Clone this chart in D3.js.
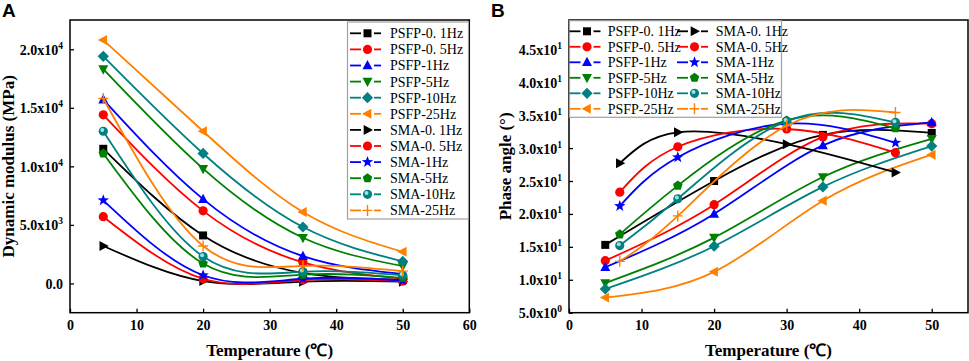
<!DOCTYPE html>
<html><head><meta charset="utf-8">
<script src="https://cdn.jsdelivr.net/npm/d3@7"></script>
<style>body{margin:0;background:#fff}svg{display:block}</style>
</head><body><svg id="c" width="969" height="361"></svg>
<script>
// ---------- DATA ----------
const seriesNames = ["PSFP-0. 1Hz","PSFP-0. 5Hz","PSFP-1Hz","PSFP-5Hz","PSFP-10Hz","PSFP-25Hz",
                     "SMA-0. 1Hz","SMA-0. 5Hz","SMA-1Hz","SMA-5Hz","SMA-10Hz","SMA-25Hz"];
const seriesColors = ["#000000","#ff0000","#0000ff","#008000","#008080","#ff8000",
                      "#000000","#ff0000","#0000ff","#008000","#008080","#ff8000"];
const seriesMarkers = ["square","circle","triUp","triDown","diamond","triLeft",
                       "triRight","circle","star","pentagon","sphere","plus"];

// Panel A: dynamic modulus (MPa)
const tempA_PSFP = [5, 20, 35, 50];
const tempA_SMA  = [5, 20, 35, 50];
const modPSFP01 = [11500, 4100, 900, 300];
const modPSFP05 = [14400, 6200, 1800, 400];
const modPSFP1  = [15700, 7200, 2330, 800];
const modPSFP5  = [18300, 9800, 3900, 1480];
const modPSFP10 = [19400, 11100, 4820, 1880];
const modPSFP25 = [20800, 13000, 6100, 2700];
const modSMA01  = [3200, 200, 150, 150];
const modSMA05  = [5700, 400, 300, 200];
const modSMA1   = [7100, 700, 400, 250];
const modSMA5   = [11100, 1700, 750, 480];
const modSMA10  = [13000, 2300, 1000, 700];
const modSMA25  = [15800, 3200, 1500, 1050];

// Panel B: phase angle (°)
const tempB_PSFP = [5, 20, 35, 50];
const tempB_SMA  = [7, 15, 30, 45];
const phPSFP01 = [15.3, 25.0, 32.0, 32.3];
const phPSFP05 = [12.9, 21.4, 31.7, 33.7];
const phPSFP1  = [11.9, 20.0, 30.4, 33.9];
const phPSFP5  = [9.5, 16.4, 25.6, 31.4];
const phPSFP10 = [8.6, 15.1, 24.1, 30.3];
const phPSFP25 = [7.3, 11.2, 22.0, 29.0];
const phSMA01  = [27.7, 32.4, 30.6, 26.3];
const phSMA05  = [23.3, 30.2, 32.9, 29.3];
const phSMA1   = [21.2, 28.6, 33.7, 30.8];
const phSMA5   = [16.9, 24.3, 34.2, 33.0];
const phSMA10  = [15.2, 22.3, 34.1, 33.9];
const phSMA25  = [12.8, 19.7, 33.4, 35.4];

// Axes ticks
const xTicksA = [0,10,20,30,40,50,60];
const yTicksA = [0,5000,10000,15000,20000];
const xTicksB = [0,10,20,30,40,50];
const yTicksB = [5,10,15,20,25,30,35,40,45];

// ---------- DRAW ----------
const svg = d3.select("#c");
const FONT = "'Liberation Serif','Times New Roman',serif";

function sciParts(v){
  if (v === 0) return ["0.0", null];
  const e = Math.floor(Math.log10(Math.abs(v)) + 1e-9);
  const m = v / Math.pow(10, e);
  return [m.toFixed(1) + "x10", String(e)];
}

function markerPath(type){
  const p = d3.path();
  const poly = pts => { p.moveTo(pts[0][0],pts[0][1]); pts.slice(1).forEach(q=>p.lineTo(q[0],q[1])); p.closePath(); };
  switch(type){
    case "square": p.rect(-4,-4,8,8); break;
    case "circle": case "sphere": p.moveTo(4.6,0); p.arc(0,0,4.6,0,2*Math.PI); break;
    case "triUp": poly([[0,-5.5],[5,3.8],[-5,3.8]]); break;
    case "triDown": poly([[0,5.5],[5,-3.8],[-5,-3.8]]); break;
    case "diamond": poly([[0,-5.6],[5.6,0],[0,5.6],[-5.6,0]]); break;
    case "triLeft": poly([[-5.5,0],[3.8,-5],[3.8,5]]); break;
    case "triRight": poly([[5.5,0],[-3.8,-5],[-3.8,5]]); break;
    case "star": {
      const pts=[]; for(let i=0;i<10;i++){const r=i%2?2.5:6;const a=-Math.PI/2+i*Math.PI/5;pts.push([r*Math.cos(a),r*Math.sin(a)]);} poly(pts); break; }
    case "pentagon": {
      const pts=[]; for(let i=0;i<5;i++){const a=-Math.PI/2+i*2*Math.PI/5;pts.push([5*Math.cos(a),5*Math.sin(a)]);} poly(pts); break; }
    case "plus": p.moveTo(-5,0); p.lineTo(5,0); p.moveTo(0,-5.5); p.lineTo(0,5.5); break;
  }
  return p.toString();
}

function drawMarker(g, type, x, y, color){
  const m = g.append("g").attr("transform", `translate(${x},${y})`);
  if (type === "plus") {
    m.append("path").attr("d", markerPath(type)).attr("stroke", color).attr("stroke-width", 1.4).attr("fill","none");
  } else {
    m.append("path").attr("d", markerPath(type)).attr("fill", color);
    if (type === "sphere") {
      m.append("circle").attr("cx",-1).attr("cy",-1.2).attr("r",2).attr("fill","#9fe0e0");
    }
  }
}

function panel(opts){
  const {left,right,top,bottom,xDom,yDom,xTicks,yTicks,xs,ysList,letter,ylabel,ylabelX,letterX} = opts;
  const x = d3.scaleLinear().domain(xDom).range([left,right]);
  const y = d3.scaleLinear().domain(yDom).range([bottom,top]);
  const g = svg.append("g");

  // series
  const line = d3.line().x(d=>x(d[0])).y(d=>y(d[1])).curve(d3.curveNatural);
  ysList.forEach((vals,i)=>{
    const xv = xs[i];
    const pts = vals.map((v,j)=>[xv[j],v]);
    g.append("path").attr("d", line(pts)).attr("fill","none")
      .attr("stroke", seriesColors[i]).attr("stroke-width", 1.8);
    pts.forEach(p=>drawMarker(g, seriesMarkers[i], x(p[0]), y(p[1]), seriesColors[i]));
  });

  // axes
  const xa = g.append("g").attr("transform",`translate(0,${bottom})`)
    .call(d3.axisBottom(x).tickValues(xTicks).tickSizeInner(-4).tickSizeOuter(0).tickPadding(7).tickFormat(d3.format("d")));
  xa.selectAll("text").attr("font-family",FONT).attr("font-weight","bold").attr("font-size",14).attr("fill","#000");
  const ya = g.append("g").attr("transform",`translate(${left},0)`)
    .call(d3.axisLeft(y).tickValues(yTicks).tickSizeInner(-4).tickSizeOuter(0).tickPadding(7).tickFormat(""));
  ya.selectAll(".tick").each(function(d){
    const [base, exp] = sciParts(d);
    const t = d3.select(this).append("text").attr("x",-7).attr("dy","0.36em")
      .attr("text-anchor","end").attr("font-family",FONT).attr("font-weight","bold")
      .attr("font-size",14).attr("fill","#000");
    t.append("tspan").text(base);
    if (exp !== null) t.append("tspan").attr("dy",-6).attr("font-size",9.5).text(exp);
  });
  g.selectAll(".domain").remove();
  g.selectAll(".tick line").attr("stroke","#000").attr("stroke-width",1.3);
  g.append("rect").attr("x",left).attr("y",top).attr("width",right-left).attr("height",bottom-top)
    .attr("fill","none").attr("stroke","#000").attr("stroke-width",1.5);

  // titles
  g.append("text").attr("x",(left+right)/2).attr("y",356).attr("text-anchor","middle")
    .attr("font-family",FONT).attr("font-weight","bold").attr("font-size",17).text("Temperature (℃)");
  g.append("text").attr("transform",`translate(${ylabelX},${(top+bottom)/2}) rotate(-90)`).attr("text-anchor","middle")
    .attr("font-family",FONT).attr("font-weight","bold").attr("font-size",17).text(ylabel);
  g.append("text").attr("x",letterX).attr("y",17).attr("font-family","'Liberation Sans',Arial,sans-serif")
    .attr("font-weight","bold").attr("font-size",19).text(letter);
  return g;
}

function legendItem(g, i, lx, cy, tx){
  const c = seriesColors[i];
  g.append("line").attr("x1",lx).attr("x2",lx+11).attr("y1",cy).attr("y2",cy).attr("stroke",c).attr("stroke-width",1.8);
  g.append("line").attr("x1",lx+24).attr("x2",lx+31).attr("y1",cy).attr("y2",cy).attr("stroke",c).attr("stroke-width",1.8);
  drawMarker(g, seriesMarkers[i], lx+17.5, cy, c);
  g.append("text").attr("x",tx).attr("y",cy).attr("dy","0.35em").attr("font-family",FONT)
    .attr("font-size",14).attr("fill","#000").text(seriesNames[i]);
}

// Panel A
const gA = panel({left:70,right:469.3,top:20,bottom:312.7,xDom:[0,60],yDom:[-2500,22500],
  xTicks:xTicksA,yTicks:yTicksA,
  xs:[tempA_PSFP,tempA_PSFP,tempA_PSFP,tempA_PSFP,tempA_PSFP,tempA_PSFP,tempA_SMA,tempA_SMA,tempA_SMA,tempA_SMA,tempA_SMA,tempA_SMA],
  ysList:[modPSFP01,modPSFP05,modPSFP1,modPSFP5,modPSFP10,modPSFP25,modSMA01,modSMA05,modSMA1,modSMA5,modSMA10,modSMA25],
  letter:"A",ylabel:"Dynamic modulus (MPa)",ylabelX:14,letterX:2});
gA.append("rect").attr("x",347.5).attr("y",22).attr("width",121).attr("height",197)
  .attr("fill","#fff").attr("stroke","#a0a0a0").attr("stroke-width",1.2);
seriesNames.forEach((n,i)=>legendItem(gA, i, 350, 33.3 + i*16.1, 390));

// Panel B
const gB = panel({left:569,right:968,top:20,bottom:312.7,xDom:[0,55],yDom:[5,49.45],
  xTicks:xTicksB,yTicks:yTicksB,
  xs:[tempB_PSFP,tempB_PSFP,tempB_PSFP,tempB_PSFP,tempB_PSFP,tempB_PSFP,tempB_SMA,tempB_SMA,tempB_SMA,tempB_SMA,tempB_SMA,tempB_SMA],
  ysList:[phPSFP01,phPSFP05,phPSFP1,phPSFP5,phPSFP10,phPSFP25,phSMA01,phSMA05,phSMA1,phSMA5,phSMA10,phSMA25],
  letter:"B",ylabel:"Phase angle (°)",ylabelX:511,letterX:491});
gB.append("rect").attr("x",569.5).attr("y",20.7).attr("width",212).attr("height",96.6)
  .attr("fill","#fff").attr("stroke","#a0a0a0").attr("stroke-width",1.2);
seriesNames.forEach((n,i)=>{
  const col = i < 6 ? 0 : 1, row = i % 6;
  legendItem(gB, i, col ? 677 : 569.5, 31.3 + row*15.5, col ? 715.7 : 607.7);
});
</script></body></html>
